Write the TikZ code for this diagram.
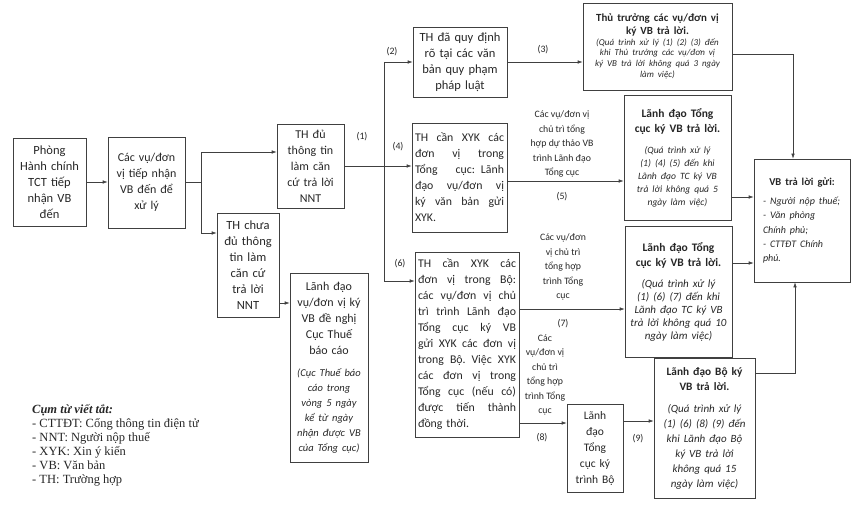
\documentclass[tikz,border=0pt]{standalone}
\usepackage{fontspec}
\setmainfont{Carlito}
\newfontfamily\legendfont{Liberation Serif}
\usetikzlibrary{positioning,arrows.meta}

\newlength{\jw}
\newcommand{\jl}[1]{\makebox[\jw][s]{\spaceskip=0.3333em plus 2em\relax #1}\\}

\tikzset{
  box/.style={draw=black!75, line width=0.6pt, inner sep=3pt, align=center, text=black!85, font=\fontsize{12}{16}\selectfont},
  jbox/.style={box, align=left, text width=#1, execute at begin node={\setlength{\jw}{#1}}},
  lbl/.style={align=center, inner sep=0pt, text=black!85, font=\fontsize{9.8}{14.5}\selectfont},
  num/.style={inner sep=0pt, text=black!85, font=\fontsize{9.8}{12}\selectfont},
  arr/.style={draw=black!75, line width=0.6pt, -{Latex[length=5pt,width=3.5pt]}},
}

\begin{document}
\begin{tikzpicture}[x=1pt, y=-1pt]
  \useasboundingbox (0,0) rectangle (858,505);

  % cac o ben trai
  \node[box, text width=67pt, minimum height=88pt, font=\fontsize{12.5}{16}\selectfont] (phong) at (49.5,182) {Phòng\\ Hành chính\\ TCT tiếp\\ nhận VB\\ đến};
  \node[box, text width=71pt, minimum height=91pt] (cacvu) at (146.5,182.5) {Các vụ/đơn\\ vị tiếp nhận\\ VB đến để\\ xử lý};
  \node[box, text width=61pt, minimum height=84pt] (thdu) at (310.5,166) {TH đủ\\ thông tin\\ làm căn\\ cứ trả lời\\ NNT};
  \node[box, text width=56pt, minimum height=104pt, font=\fontsize{12.5}{16}\selectfont] (thchua) at (248,265) {TH chưa\\ đủ thông\\ tin làm\\ căn cứ\\ trả lời\\ NNT};
  \node[box, text width=72pt, minimum height=189pt] (ldvu) at (329,367.5) {Lãnh đạo\\ vụ/đơn vị ký\\ VB đề nghị\\ Cục Thuế\\ báo cáo\par\vspace{7pt}
    {\itshape\fontsize{10.5}{15}\selectfont (Cục Thuế báo\\ cáo trong\\ vòng 5 ngày\\ kể từ ngày\\ nhận được VB\\ của Tổng cục)\par}};

  % cac truong hop
  \node[box, text width=88pt, minimum height=70pt, font=\fontsize{12.5}{16}\selectfont] (thqd) at (460,62) {TH đã quy định\\ rõ tại các văn\\ bản quy phạm\\ pháp luật};
  \node[jbox=89pt, minimum height=109pt, font=\fontsize{11.8}{16}\selectfont] (thtc) at (459.5,177.5) {\jl{TH cần XYK các}\jl{đơn vị trong}\jl{Tổng cục: Lãnh}\jl{đạo vụ/đơn vị}\jl{ký văn bản gửi}XYK.};
  \node[jbox=98pt, minimum height=185pt, font=\fontsize{11.8}{16}\selectfont] (thbo) at (467,344.5) {\jl{TH cần XYK các}\jl{đơn vị trong Bộ:}\jl{các vụ/đơn vị chủ}\jl{trì trình Lãnh đạo}\jl{Tổng cục ký VB}\jl{gửi XYK các đơn vị}\jl{trong Bộ. Việc XYK}\jl{các đơn vị trong}\jl{Tổng cục (nếu có)}\jl{được tiến thành}đồng thời.};
  \node[box, text width=50pt, minimum height=88pt, font=\fontsize{11.5}{16}\selectfont] (ldtcbo) at (595,448) {Lãnh\\ đạo\\ Tổng\\ cục ký\\ trình Bộ};

  % cac cap ky
  \node[box, text width=143pt, minimum height=87pt] (thutruong) at (657.5,46.5) {{\bfseries\fontsize{10.9}{12.5}\selectfont Thủ trưởng các vụ/đơn vị\\ ký VB trả lời.\par}
    {\itshape\fontsize{9}{10.8}\selectfont (Quá trình xử lý (1) (2) (3) đến\\ khi Thủ trưởng các vụ/đơn vị\\ ký VB trả lời không quá 3 ngày\\ làm việc)\par}};
  \node[box, text width=101pt, minimum height=125pt] (ldtc1) at (677.5,157.5) {{\bfseries\fontsize{11.5}{15}\selectfont Lãnh đạo Tổng\\ cục ký VB trả lời.\par}\vspace{8pt}
    {\itshape\fontsize{9.6}{13}\selectfont (Quá trình xử lý\\ (1) (4) (5) đến khi\\ Lãnh đạo TC ký VB\\ trả lời không quá 5\\ ngày làm việc)\par}};
  \node[box, text width=101pt, minimum height=131pt] (ldtc2) at (678.5,291.5) {{\bfseries\fontsize{11.5}{15}\selectfont Lãnh đạo Tổng\\ cục ký VB trả lời.\par}\vspace{8pt}
    {\itshape\fontsize{11}{13}\selectfont (Quá trình xử lý\\ (1) (6) (7) đến khi\\ Lãnh đạo TC ký VB\\ trả lời không quá 10\\ ngày làm việc)\par}};
  \node[box, text width=95pt, minimum height=140pt] (ldbo) at (704.5,428) {{\bfseries\fontsize{11.3}{15}\selectfont Lãnh đạo Bộ ký\\ VB trả lời.\par}\vspace{7pt}
    {\itshape\fontsize{11}{15}\selectfont (Quá trình xử lý\\ (1) (6) (8) (9) đến\\ khi Lãnh đạo Bộ\\ ký VB trả lời\\ không quá 15\\ ngày làm việc)\par}};
  \node[box, align=left, inner xsep=9pt, text width=78pt, minimum height=123pt] (vbtl) at (802,220.5) {{\centering\bfseries\fontsize{10.5}{14}\selectfont VB trả lời gửi:\par}\vspace{5pt}
    {\itshape\fontsize{10}{14.3}\selectfont - Người nộp thuế;\\ - Văn phòng\\ Chính phủ;\\ - CTTĐT Chính\\ phủ.\par}};

  % nhan tren duong noi
  \node[lbl] (l5) at (562,144) {Các vụ/đơn vị\\ chủ trì tổng\\ hợp dự thảo VB\\ trình Lãnh đạo\\ Tổng cục};
  \node[lbl] (l7) at (563,267) {Các vụ/đơn\\ vị chủ trì\\ tổng hợp\\ trình Tổng\\ cục};
  \node[lbl] (l8) at (545,375) {Các\\ vụ/đơn vị\\ chủ trì\\ tổng hợp\\ trình Tổng\\ cục};
  \node[num] (n1) at (362,137) {(1)};
  \node[num] (n2) at (392,52) {(2)};
  \node[num] (n3) at (543,50) {(3)};
  \node[num] (n4) at (398,147) {(4)};
  \node[num] (n5) at (562,197) {(5)};
  \node[num] (n6) at (400,264) {(6)};
  \node[num] (n7) at (563,324) {(7)};
  \node[num] (n8) at (542,438) {(8)};
  \node[num] (n9) at (638,439) {(9)};

  % duong noi
  \coordinate (s1) at (201,182.5);
  \coordinate (tr) at (384,62);
  \coordinate (p0) at ([yshift=-38pt]thchua.east);
  \coordinate (p5) at ([yshift=-3.5pt]thtc.east);
  \coordinate (p7) at ([yshift=35.5pt]thbo.east);
  \coordinate (p8) at ([yshift=-78.5pt]thbo.east);
  \coordinate (p9) at ([yshift=27pt]ldtcbo.east);
  \coordinate (q1) at ([yshift=-8pt]thutruong.east);
  \coordinate (q2) at ([yshift=-39.5pt]ldtc1.east);
  \coordinate (q3) at ([yshift=28.5pt]ldtc2.east);
  \coordinate (q4) at ([yshift=55pt]ldbo.east);

  \draw[arr] (phong.east) -- (phong.east -| cacvu.west);
  \draw[draw=black!75, line width=0.6pt] (cacvu.east) -- (s1);
  \draw[arr] (s1) |- ([yshift=14pt]thdu.west);
  \draw[arr] (s1) |- ([yshift=32pt]thchua.west);
  \draw[arr] (p0) -- (p0 -| ldvu.west);
  \draw[arr] (thdu.east) -- (thdu.east -| thtc.west);
  \draw[arr] (tr) -- (tr -| thqd.west);
  \draw[arr] (tr) |- ([yshift=63.5pt]thbo.west);
  \draw[arr] (thqd.east) -- (thqd.east -| thutruong.west);
  \draw[arr] (p5) -- (p5 -| ldtc1.west);
  \draw[arr] (p7) -- (p7 -| ldtc2.west);
  \draw[arr] (p8) -- (p8 -| ldtcbo.west);
  \draw[arr] (p9) -- (p9 -| ldbo.west);
  \draw[arr] (q1) -| ([xshift=-9pt]vbtl.north);
  \draw[arr] (q2) -- (q2 -| vbtl.west);
  \draw[arr] (q3) -- (q3 -| vbtl.west);
  \draw[arr] (q4) -| ([xshift=-7pt]vbtl.south);

  % chu thich
  \node[anchor=north west, align=left, inner sep=0pt, text=black!85, font=\legendfont\fontsize{12.5}{14}\selectfont] (abbr) at (32,404)
    {\textbf{\textit{Cụm từ viết tắt:}}\\ - CTTĐT: Cổng thông tin điện tử\\ - NNT: Người nộp thuế\\ - XYK: Xin ý kiến\\ - VB: Văn bản\\ - TH: Trường hợp};
\end{tikzpicture}
\end{document}
